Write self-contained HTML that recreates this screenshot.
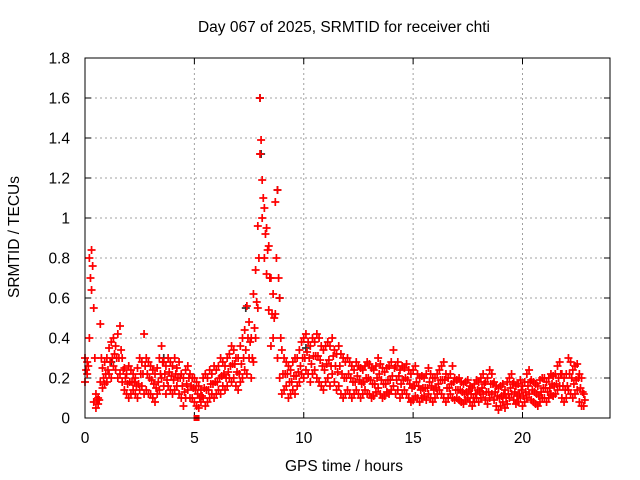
<!DOCTYPE html>
<html><head><meta charset="utf-8"><style>
body{margin:0;background:#fff}
svg{display:block;font-family:"Liberation Sans",sans-serif;font-size:15.5px}
</style></head><body>
<svg id="chart" width="640" height="480" xmlns="http://www.w3.org/2000/svg">
<rect width="640" height="480" fill="#fff"/>
<text x="344" y="32" text-anchor="middle">Day 067 of 2025, SRMTID for receiver chti</text>
<text x="344" y="471" text-anchor="middle">GPS time / hours</text>
<text transform="translate(19,237) rotate(-90)" text-anchor="middle">SRMTID / TECUs</text>
<g id="grid"></g>
<g id="ticks"></g>
<g id="marks"></g>
<rect x="85" y="58" width="525" height="360" fill="none" stroke="#000"/>
</svg>
<script>
const xTicks=[0,5,10,15,20];
const yTicks=[0,0.2,0.4,0.6,0.8,1,1.2,1.4,1.6,1.8];
const yTickLabels=["0","0.2","0.4","0.6","0.8","1","1.2","1.4","1.6","1.8"];
const tStart=0, tStep=0.1;
const hiVals=[0.30,0.28,0.80,0.84,0.55,0.12,0.10,0.47,0.25,0.28,
0.30,0.35,0.38,0.40,0.36,0.42,0.46,0.30,0.25,0.22,
0.26,0.24,0.22,0.20,0.25,0.30,0.28,0.42,0.30,0.28,
0.26,0.24,0.22,0.25,0.30,0.36,0.28,0.26,0.30,0.28,
0.26,0.30,0.25,0.28,0.22,0.20,0.24,0.26,0.22,0.20,
0.20,0.18,0.16,0.14,0.20,0.22,0.20,0.24,0.22,0.26,
0.24,0.26,0.30,0.28,0.26,0.30,0.32,0.36,0.34,0.30,
0.30,0.36,0.40,0.44,0.56,0.48,0.40,0.62,0.74,0.96,
1.60,1.19,1.05,0.95,0.86,0.70,0.62,1.08,1.14,0.60,
0.34,0.30,0.28,0.26,0.24,0.28,0.30,0.30,0.34,0.38,
0.40,0.42,0.38,0.36,0.40,0.38,0.42,0.40,0.36,0.34,
0.36,0.38,0.36,0.40,0.34,0.32,0.36,0.32,0.30,0.28,
0.30,0.28,0.26,0.24,0.28,0.26,0.25,0.24,0.26,0.28,
0.27,0.25,0.24,0.26,0.30,0.27,0.25,0.23,0.25,0.26,
0.28,0.34,0.26,0.28,0.24,0.26,0.25,0.27,0.24,0.22,
0.24,0.26,0.22,0.20,0.21,0.20,0.22,0.25,0.22,0.20,
0.20,0.22,0.24,0.26,0.28,0.22,0.20,0.22,0.26,0.20,
0.19,0.20,0.18,0.17,0.18,0.19,0.16,0.15,0.17,0.19,
0.18,0.20,0.22,0.18,0.20,0.24,0.22,0.18,0.16,0.15,
0.16,0.17,0.14,0.18,0.20,0.22,0.18,0.16,0.17,0.19,
0.16,0.18,0.22,0.24,0.19,0.18,0.17,0.16,0.19,0.20,
0.20,0.18,0.20,0.22,0.21,0.22,0.26,0.28,0.22,0.20,
0.22,0.30,0.28,0.24,0.26,0.27,0.22,0.20,0.12];
const loVals=[0.18,0.22,0.40,0.64,0.08,0.05,0.07,0.18,0.15,0.17,
0.18,0.22,0.20,0.26,0.24,0.20,0.22,0.18,0.14,0.12,
0.10,0.12,0.14,0.12,0.10,0.14,0.16,0.12,0.14,0.12,
0.12,0.10,0.08,0.12,0.14,0.20,0.16,0.12,0.16,0.14,
0.12,0.14,0.16,0.12,0.10,0.06,0.10,0.14,0.10,0.10,
0.08,0.06,0.05,0.08,0.10,0.06,0.08,0.10,0.12,0.10,
0.12,0.14,0.12,0.16,0.14,0.16,0.20,0.18,0.20,0.16,
0.14,0.18,0.20,0.24,0.22,0.30,0.20,0.28,0.40,0.55,
1.32,1.00,0.80,0.72,0.54,0.36,0.40,0.52,0.30,0.20,
0.12,0.14,0.16,0.10,0.12,0.14,0.12,0.16,0.18,0.22,
0.20,0.24,0.22,0.18,0.22,0.24,0.20,0.18,0.16,0.14,
0.18,0.20,0.16,0.22,0.18,0.14,0.16,0.12,0.10,0.12,
0.14,0.12,0.10,0.12,0.14,0.12,0.10,0.12,0.14,0.12,
0.12,0.10,0.11,0.13,0.15,0.12,0.10,0.11,0.13,0.12,
0.14,0.16,0.12,0.14,0.10,0.12,0.14,0.12,0.10,0.08,
0.09,0.11,0.10,0.08,0.10,0.11,0.09,0.12,0.10,0.08,
0.10,0.12,0.14,0.12,0.10,0.08,0.10,0.12,0.10,0.09,
0.10,0.09,0.08,0.07,0.09,0.10,0.08,0.06,0.08,0.10,
0.08,0.10,0.12,0.09,0.07,0.10,0.12,0.09,0.06,0.04,
0.06,0.08,0.05,0.07,0.10,0.12,0.09,0.07,0.08,0.10,
0.06,0.08,0.10,0.12,0.09,0.08,0.07,0.06,0.08,0.10,
0.10,0.08,0.10,0.12,0.11,0.12,0.14,0.16,0.10,0.08,
0.10,0.14,0.12,0.10,0.12,0.14,0.08,0.06,0.06];
const midStart=0.05;
const midVals=[0.24,0.26,0.70,0.76,0.30,0.09,0.09,0.30,0.20,0.22,
0.24,0.28,0.30,0.32,0.30,0.30,0.34,0.24,0.20,0.17,
0.18,0.18,0.18,0.16,0.17,0.22,0.22,0.26,0.22,0.20,
0.19,0.17,0.15,0.18,0.22,0.28,0.22,0.19,0.23,0.21,
0.19,0.22,0.20,0.20,0.16,0.13,0.17,0.20,0.16,0.15,
0.14,0.12,0.10,0.11,0.15,0.14,0.14,0.17,0.17,0.18,
0.18,0.20,0.21,0.22,0.20,0.23,0.26,0.27,0.27,0.23,
0.22,0.27,0.30,0.34,0.40,0.38,0.30,0.45,0.58,0.80,
1.39,1.10,0.92,0.84,0.70,0.52,0.50,0.80,0.70,0.40,
0.22,0.22,0.22,0.18,0.18,0.21,0.21,0.23,0.26,0.30,
0.30,0.33,0.30,0.27,0.31,0.31,0.31,0.29,0.26,0.24,
0.27,0.29,0.26,0.31,0.26,0.23,0.26,0.22,0.20,0.20,
0.22,0.20,0.18,0.18,0.21,0.19,0.17,0.18,0.20,0.20,
0.19,0.17,0.17,0.20,0.22,0.19,0.17,0.17,0.19,0.19,
0.21,0.25,0.19,0.21,0.17,0.19,0.20,0.19,0.17,0.15,
0.16,0.18,0.16,0.14,0.15,0.15,0.15,0.18,0.16,0.14,
0.15,0.17,0.19,0.19,0.19,0.15,0.15,0.17,0.18,0.14,
0.14,0.14,0.13,0.12,0.13,0.14,0.12,0.10,0.12,0.14,
0.13,0.15,0.17,0.13,0.13,0.17,0.17,0.13,0.11,0.10,
0.11,0.12,0.10,0.12,0.15,0.17,0.13,0.11,0.12,0.14,
0.11,0.13,0.16,0.18,0.14,0.13,0.12,0.11,0.13,0.15,
0.15,0.13,0.15,0.17,0.16,0.17,0.20,0.22,0.16,0.14,
0.16,0.22,0.20,0.17,0.19,0.20,0.15,0.13,0.09];
const blackTimes=[7.35,8.0,8.05,8.8,8.9,10.1,3.6,1.2];
const blackVals=[0.55,1.60,1.32,1.14,0.60,0.35,0.30,0.28];
const zeroTimes=[5.1];
const zeroVals=[0];

const NS="http://www.w3.org/2000/svg";
const X=t=>85+t*525/24;
const Y=v=>418-v*200;
const grid=document.getElementById('grid'),ticks=document.getElementById('ticks'),marks=document.getElementById('marks');
function mk(tag,attrs,parent){const e=document.createElementNS(NS,tag);for(const k in attrs)e.setAttribute(k,attrs[k]);parent.appendChild(e);return e;}
xTicks.forEach(t=>{
  const x=X(t);
  if(t>0){const g=mk('line',{x1:x,x2:x,y1:58,y2:418,stroke:'#a0a0a0','stroke-dasharray':'2,3'},grid);
  
  }
  const tk=mk('path',{d:`M${x},418v-6M${x},58v6`,stroke:'#000'},ticks);
  
  
  const lb=mk('text',{x:x,y:443,'text-anchor':'middle'},ticks);lb.textContent=t;
  
  
});
yTicks.forEach((v,i)=>{
  const y=Y(v);
  if(i>0&&i<yTicks.length-1){const g=mk('line',{x1:85,x2:610,y1:y,y2:y,stroke:'#a0a0a0','stroke-dasharray':'2,3'},grid);
  
  }
  const tk=mk('path',{d:`M85,${y}h6M610,${y}h-6`,stroke:'#000'},ticks);
  
  
  const lb=mk('text',{x:70,y:y+5.5,'text-anchor':'end'},ticks);lb.textContent=yTickLabels[i];
  
  
});
function cross(t,v,color,name){
  const x=X(t),y=Y(v);
  const p=mk('path',{d:`M${x-4},${y}h8M${x},${y-4}v8`,stroke:color,'stroke-width':1.7,fill:'none'},marks);
  
  
}
blackVals.forEach((v,i)=>cross(blackTimes[i],v,'#333','black-point'));
hiVals.forEach((v,i)=>cross(tStart+i*tStep,v,'#ff0000','srmtid-point'));
loVals.forEach((v,i)=>cross(tStart+i*tStep,v,'#ff0000','srmtid-point'));
midVals.forEach((v,i)=>cross(midStart+i*tStep,v,'#ff0000','srmtid-point'));
zeroVals.forEach((v,i)=>{
  const r=mk('rect',{x:X(zeroTimes[i])-3,y:Y(v)-3,width:6,height:6,fill:'#ff0000'},marks);
  
  
});
</script>
</body></html>
